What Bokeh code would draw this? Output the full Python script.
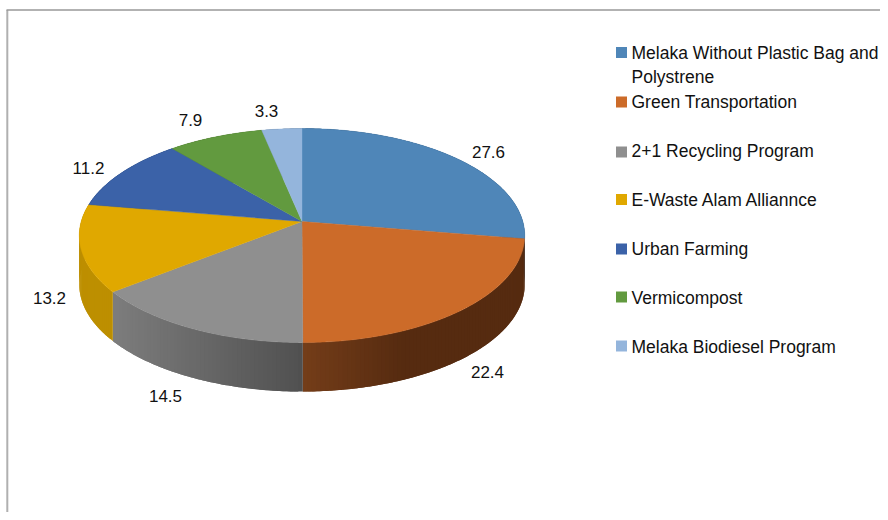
import math
from bokeh.plotting import figure
from bokeh.models import Range1d
from bokeh.embed import file_html
from bokeh.resources import INLINE
from bokeh.core.properties import value as bvalue

# data
categories = ["Melaka Without Plastic Bag and\nPolystrene", "Green Transportation", "2+1 Recycling Program",
              "E-Waste Alam Alliannce", "Urban Farming", "Vermicompost", "Melaka Biodiesel Program"]
values = [27.6, 22.4, 14.5, 13.2, 11.2, 7.9, 3.3]
colors = ["#4f86b8", "#cc6b29", "#8f8f8f", "#e0a800", "#3b62a8", "#629a3f", "#94b5dc"]

# layout (pixels)
CX, CY, R, A, K, DEPTH = 301.5, 221.0, 220.8, 105.2, 0.131, 49.0
label_x = [488, 487, 165, 49, 88, 190, 266]
label_y = [151, 371, 395, 297, 167, 119, 110]
legend_sq_y = [52, 101.5, 151.5, 199, 248.5, 296.5, 345.5]
legend_text_y = [[52, 76], [101], [150], [199], [248], [297], [346]]
FONT = "Liberation Sans"


def lerp_hex(c1, c2, f):
    f = max(0.0, min(1.0, f))
    a = [int(c1[i:i + 2], 16) for i in (1, 3, 5)]
    b = [int(c2[i:i + 2], 16) for i in (1, 3, 5)]
    return "#%02x%02x%02x" % tuple(round(a[i] + (b[i] - a[i]) * f) for i in range(3))


def proj(deg):
    """Clockwise angle from top to pixels, perspective-projected circle."""
    t = math.radians(deg)
    x, y = math.sin(t), math.cos(t)
    d = 1 + K * y
    return CX + R * x / d, CY - A * y / d


def side_color(i, X):
    if i == 1:
        return lerp_hex("#743d19", "#562b10", (X - 302) / 100)
    if i == 2:
        return lerp_hex("#7c7c7c", "#505050", (X - 116) / 186)
    if i == 3:
        return "#bd8f00"
    return lerp_hex(colors[i], "#000000", 0.35)


p = figure(width=880, height=512, x_range=Range1d(0, 880), y_range=Range1d(512, 0),
           output_backend="svg", toolbar_location=None, min_border=0)
p.axis.visible = False
p.grid.visible = False
p.outline_line_color = None
p.background_fill_color = "white"

# frame lines
p.line([6.8, 6.8], [9.5, 512], line_color="#b0b0b0", line_width=2)
p.line([6, 880], [9.5, 9.5], line_color="#999999", line_width=1.5)

total = sum(values)
edges = [0.0]
for v in values:
    edges.append(edges[-1] + v / total * 360.0)

# side wall: every strip overlaps the next one so no seams show
sx, sy, sc = [], [], []
for i in range(len(values)):
    a0, a1 = edges[i], edges[i + 1]
    n = max(2, int((a1 - a0) / 1.0))
    step = (a1 - a0) / n
    for j in range(n):
        b0 = a0 + step * j
        b1 = b0 + step * (2 if j < n - 1 else 1)
        xm = proj(b0 + step / 2)[0]
        mids = [proj(b0 + (b1 - b0) * k / 3) for k in range(4)]
        sx.append([q[0] for q in mids] + [q[0] for q in reversed(mids)])
        sy.append([q[1] for q in mids] + [q[1] + DEPTH for q in reversed(mids)])
        sc.append(side_color(i, xm))
p.patches(sx, sy, fill_color=sc, line_color=None)

# top face
for i in range(len(values)):
    a0, a1 = edges[i], edges[i + 1]
    n = max(4, int((a1 - a0) / 0.5))
    pts = [proj(a0 + (a1 - a0) * j / n) for j in range(n + 1)]
    xs = [CX] + [q[0] for q in pts]
    ys = [CY] + [q[1] for q in pts]
    p.patch(xs, ys, fill_color=colors[i], line_color=colors[i], line_width=0.4)

# data labels
p.text(label_x, label_y, text=[f"{v:.1f}" for v in values], text_font=bvalue(FONT),
       text_font_size="17px", text_color="#111111", text_align="center", text_baseline="middle")

# legend
p.scatter([621] * len(colors), legend_sq_y, marker="square", size=11, fill_color=colors, line_color=None)
tx, ty, tt = [], [], []
for name, ys in zip(categories, legend_text_y):
    for line, y in zip(name.split("\n"), ys):
        tx.append(631)
        ty.append(y)
        tt.append(line)
p.text(tx, ty, text=tt, text_font=bvalue(FONT), text_font_size="17.5px", text_color="#111111",
       text_align="left", text_baseline="middle")

open("out.html", "w").write(file_html(p, INLINE))
